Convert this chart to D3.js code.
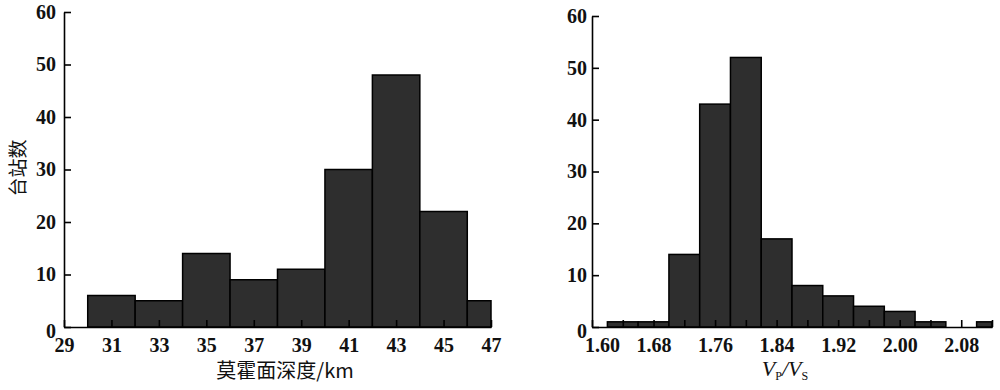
<!DOCTYPE html>
<html>
<head>
<meta charset="utf-8">
<script src="https://cdn.jsdelivr.net/npm/d3@7/dist/d3.min.js"></script>
<style>
  body { margin: 0; background: white; }
  .tick text { font-family: "Liberation Serif", serif; font-weight: bold; font-size: 20px; fill: #111; }
  .domain, .tick line { stroke: #000; stroke-width: 1.6; }
</style>
</head>
<body>
<div id="plot"></div>
<script>
// Moho depth histogram (left)
const mohoBinStart = [30, 32, 34, 36, 38, 40, 42, 44, 46];
const mohoCounts   = [6, 5, 14, 9, 11, 30, 48, 22, 5];
const mohoBinWidth = 2;
const mohoTicks = [29, 31, 33, 35, 37, 39, 41, 43, 45, 47];

// Vp/Vs histogram (right)
const vpvsBinStart = [1.62, 1.66, 1.70, 1.74, 1.78, 1.82, 1.86, 1.90, 1.94, 1.98, 2.02, 2.06, 2.10];
const vpvsCounts   = [1, 1, 14, 43, 52, 17, 8, 6, 4, 3, 1, 0, 1];
const vpvsBinWidth = 0.04;
const vpvsTicks = [1.60, 1.64, 1.68, 1.72, 1.76, 1.80, 1.84, 1.88, 1.92, 1.96, 2.00, 2.04, 2.08, 2.12];
const vpvsLabels = ["1.60", "1.68", "1.76", "1.84", "1.92", "2.00", "2.08"];

const yTicks = [0, 10, 20, 30, 40, 50, 60];

const width = 1000, height = 390;

const svg = d3.select("#plot").append("svg")
  .attr("width", width)
  .attr("height", height)
  .style("background-color", "white");

function histogram(opts) {
  const x = d3.scaleLinear().domain(opts.xDomain).range([opts.left, opts.right]);
  const y = d3.scaleLinear().domain([0, 60]).range([opts.bottom, opts.top]);
  const g = svg.append("g");

  // bars (clipped to the axis end)
  g.selectAll("rect")
    .data(opts.starts.map((s, i) => ({ s: s, e: Math.min(s + opts.binWidth, opts.xDomain[1]), c: opts.counts[i] })))
    .enter()
    .filter(d => d.c > 0)
    .append("rect")
    .attr("x", d => x(d.s))
    .attr("width", d => x(d.e) - x(d.s))
    .attr("y", d => y(d.c))
    .attr("height", d => y(0) - y(d.c))
    .attr("fill", "#2e2e2e")
    .attr("stroke", "#000")
    .attr("stroke-width", 1.5);

  const xAxis = d3.axisBottom(x)
    .tickValues(opts.ticks)
    .tickFormat(opts.format)
    .tickSizeInner(-7)
    .tickSizeOuter(0)
    .tickPadding(11);
  const xg = g.append("g")
    .attr("transform", `translate(0,${opts.bottom})`)
    .call(xAxis);

  const yAxis = d3.axisLeft(y)
    .tickValues(yTicks)
    .tickSizeInner(-7)
    .tickSizeOuter(0)
    .tickPadding(opts.yPad);
  const yg = g.append("g")
    .attr("transform", `translate(${opts.left},0)`)
    .call(yAxis);
  // the zero label sits a little low, as in the original
  yg.selectAll(".tick text").filter(d => d === 0).attr("dy", "0.5em");

  return xg;
}

histogram({
  xDomain: [29, 47], left: 64, right: 491, top: 12, bottom: 327,
  starts: mohoBinStart, counts: mohoCounts, binWidth: mohoBinWidth,
  ticks: mohoTicks, format: d3.format("d"), yPad: 8
});

const rightX = histogram({
  xDomain: [1.60, 2.12], left: 592, right: 992, top: 16, bottom: 327,
  starts: vpvsBinStart, counts: vpvsCounts, binWidth: vpvsBinWidth,
  ticks: vpvsTicks,
  format: d => { const s = d3.format(".2f")(d); return vpvsLabels.includes(s) ? s : ""; },
  yPad: 5
});
// first label nudged right, clear of the y-axis "0"
rightX.selectAll(".tick text").filter(d => Math.abs(d - 1.60) < 1e-9).attr("dx", 10);

// axis titles
svg.append("text")
  .attr("x", 285).attr("y", 378)
  .attr("text-anchor", "middle")
  .style("font-family", "'Noto Sans CJK SC', sans-serif")
  .style("font-size", "20px")
  .style("fill", "#111")
  .text("莫霍面深度/km");

svg.append("text")
  .attr("transform", "translate(16,168) rotate(-90)")
  .attr("text-anchor", "middle")
  .attr("dominant-baseline", "central")
  .style("font-family", "'Noto Sans CJK SC', sans-serif")
  .style("font-size", "19px")
  .style("fill", "#111")
  .text("台站数");

const vt = svg.append("text")
  .attr("x", 785).attr("y", 376)
  .attr("text-anchor", "middle")
  .style("font-family", "'Liberation Serif', serif")
  .style("font-size", "22px")
  .style("fill", "#111");
vt.append("tspan").style("font-style", "italic").text("V");
vt.append("tspan").attr("dy", 4).style("font-size", "12px").text("P");
vt.append("tspan").attr("dy", -4).style("font-style", "italic").text("/V");
vt.append("tspan").attr("dy", 4).style("font-size", "12px").text("S");
</script>
</body>
</html>
